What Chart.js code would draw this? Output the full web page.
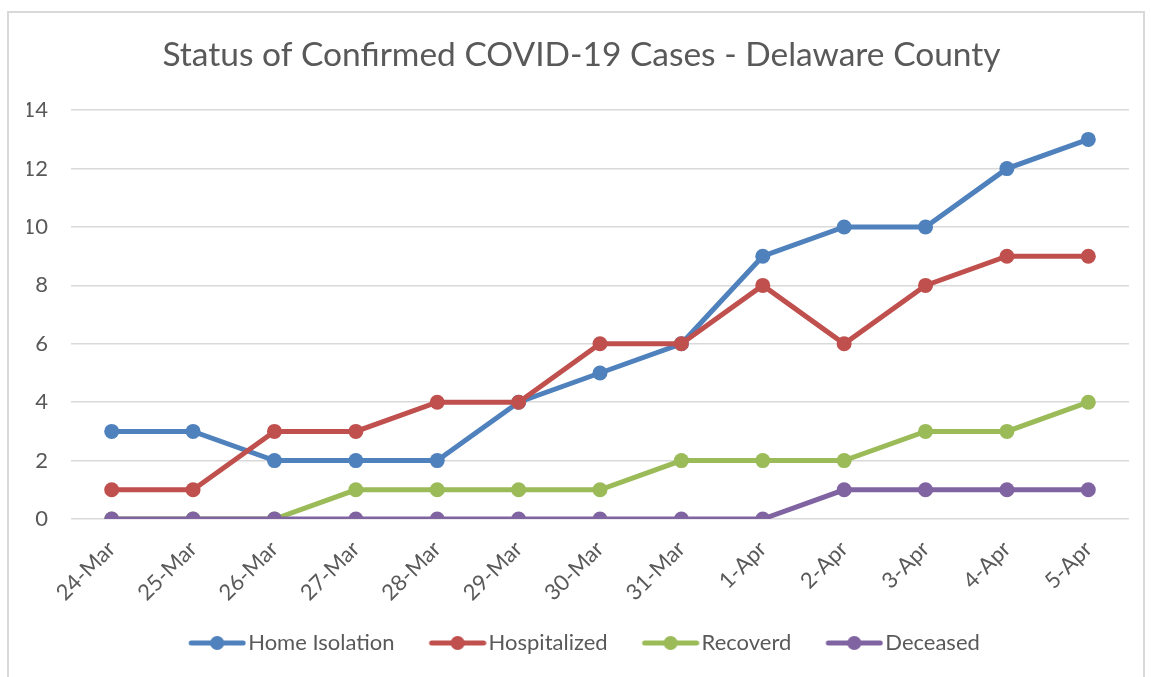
<!DOCTYPE html>
<html>
<head>
<meta charset="utf-8">
<script src="https://cdn.jsdelivr.net/npm/chart.js@4"></script>
<style>
  html, body { margin: 0; padding: 0; background: #fff; }
  #frame { position: absolute; left: 7px; top: 11px; width: 1134px; height: 700px; border: 2px solid #d9d9d9; }
  #chart { position: absolute; left: 0; top: 0; }
</style>
</head>
<body>
<div id="frame"></div>
<canvas id="chart" width="1151" height="677"></canvas>
<script>
// --- data ---
const dates = ["24-Mar", "25-Mar", "26-Mar", "27-Mar", "28-Mar", "29-Mar", "30-Mar",
               "31-Mar", "1-Apr", "2-Apr", "3-Apr", "4-Apr", "5-Apr"];
const homeIsolation = [3, 3, 2, 2, 2, 4, 5, 6, 9, 10, 10, 12, 13];
const hospitalized  = [1, 1, 3, 3, 4, 4, 6, 6, 8, 6, 8, 9, 9];
const recovered     = [0, 0, 0, 1, 1, 1, 1, 2, 2, 2, 3, 3, 4];
const deceased      = [0, 0, 0, 0, 0, 0, 0, 0, 0, 1, 1, 1, 1];

const FONT = "Lato, 'Open Sans', sans-serif";
const TEXT = "#595959";

// legend marker: short line with a dot, like Excel (shifted right inside the image)
function legendMark(color) {
    const c = document.createElement("canvas");
    c.width = 72; c.height = 16;
    const g = c.getContext("2d");
    g.strokeStyle = color; g.lineWidth = 5; g.lineCap = "round";
    g.beginPath(); g.moveTo(17, 8); g.lineTo(69, 8); g.stroke();
    g.fillStyle = color;
    g.beginPath(); g.arc(43, 8, 7, 0, Math.PI * 2); g.fill();
    return c;
}

function series(label, data, color, order) {
    return {
        label: label,
        data: data,
        borderColor: color,
        backgroundColor: color,
        borderWidth: 5,
        pointRadius: 7.5,
        pointHoverRadius: 7.5,
        pointBorderWidth: 0,
        tension: 0,
        order: order
    };
}

new Chart(document.getElementById("chart"), {
    type: "line",
    data: {
        labels: dates,
        datasets: [
            series("Home Isolation", homeIsolation, "#4f81bd", 3),
            series("Hospitalized", hospitalized, "#c0504d", 2),
            series("Recoverd", recovered, "#9bbb59", 1),
            series("Deceased", deceased, "#8064a2", 0)
        ]
    },
    options: {
        responsive: false,
        animation: false,
        devicePixelRatio: 1,
        layout: { padding: { left: 27, right: 15, top: 35, bottom: 13 } },
        scales: {
            x: {
                offset: true,
                grid: { display: false },
                border: { display: false },
                ticks: {
                    color: TEXT,
                    font: { family: FONT, size: 22 },
                    maxRotation: 45,
                    minRotation: 45,
                    padding: 9
                },
                afterFit: s => { s.height = 84; }
            },
            y: {
                min: 0,
                max: 14,
                grid: { color: "#d9d9d9", lineWidth: 1.5, drawTicks: false },
                border: { display: false },
                ticks: {
                    stepSize: 2,
                    color: TEXT,
                    font: { family: FONT, size: 22 },
                    padding: 23
                },
                afterFit: s => { s.width = 44; }
            },
            // empty spacer on the right so the plot ends where the reference does
            yRight: {
                position: "right",
                grid: { display: false },
                border: { display: false },
                ticks: { display: false },
                afterFit: s => { s.width = 7; }
            }
        },
        plugins: {
            title: {
                display: true,
                text: "Status of Confirmed COVID-19 Cases - Delaware County",
                color: TEXT,
                font: { family: FONT, size: 33.5, weight: "normal" },
                padding: { top: 0, bottom: 35 }
            },
            legend: {
                position: "bottom",
                labels: {
                    color: TEXT,
                    font: { family: FONT, size: 22 },
                    usePointStyle: true,
                    pointStyleWidth: 54,
                    padding: 29,
                    sort: (a, b) => a.datasetIndex - b.datasetIndex,
                    generateLabels: chart => chart.data.datasets.map((ds, i) => ({
                        text: ds.label,
                        fontColor: TEXT,
                        pointStyle: legendMark(ds.borderColor),
                        datasetIndex: i,
                        hidden: false,
                        lineWidth: 0
                    }))
                }
            },
            tooltip: { enabled: false }
        }
    }
});
</script>
</body>
</html>
